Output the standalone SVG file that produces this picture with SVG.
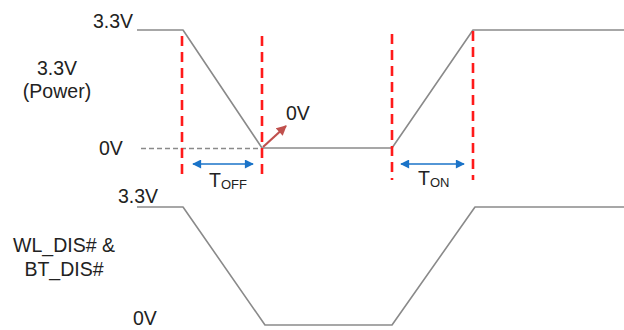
<svg xmlns="http://www.w3.org/2000/svg" width="624" height="330" viewBox="0 0 624 330">
  <style>
    text { font-family: "Liberation Sans", Arial, sans-serif; fill: #222; }
    .lbl { font-size: 19.5px; }
    .sub { font-size: 13px; }
    .wave { fill: none; stroke: #8a8a8a; stroke-width: 1.6; stroke-linejoin: round; }
    .zero { fill: none; stroke: #8a8a8a; stroke-width: 1.5; stroke-dasharray: 5 3; }
    .mark { fill: none; stroke: #ff1a1a; stroke-width: 2.6; stroke-dasharray: 10 6; }
    .span { stroke: #1a73c8; stroke-width: 1.6; fill: none; }
  </style>
  <defs>
    <marker id="blueHead" viewBox="0 0 10 10" refX="9" refY="5" markerWidth="10" markerHeight="9" markerUnits="userSpaceOnUse" orient="auto-start-reverse">
      <path d="M0,0 L10,5 L0,10 Z" fill="#1a73c8"/>
    </marker>
    <marker id="redHead" viewBox="0 0 10 10" refX="9" refY="5" markerWidth="11" markerHeight="10" markerUnits="userSpaceOnUse" orient="auto">
      <path d="M0,0 L10,5 L0,10 Z" fill="#c0504d"/>
    </marker>
  </defs>

  <g id="power-signal">
    <text class="lbl" x="93" y="28">3.3V</text>
    <text class="lbl" x="57" y="75" text-anchor="middle">3.3V</text>
    <text class="lbl" x="57" y="98" text-anchor="middle">(Power)</text>
    <text class="lbl" x="99" y="155">0V</text>
    <line class="zero" x1="141" y1="148.5" x2="262" y2="148.5"/>
    <polyline class="wave" points="137,30 183,30 262,148 392,148 473,30 624,30"/>
  </g>

  <g id="disable-signal">
    <text class="lbl" x="118" y="203">3.3V</text>
    <text class="lbl" x="64" y="252" text-anchor="middle">WL_DIS# &amp;</text>
    <text class="lbl" x="64" y="276" text-anchor="middle">BT_DIS#</text>
    <text class="lbl" x="133" y="325">0V</text>
    <polyline class="wave" points="137,207 183,207 265,325 392,325 475,207 624,207"/>
  </g>

  <g id="markers">
    <line class="mark" x1="182" y1="36" x2="182" y2="180"/>
    <line class="mark" x1="262" y1="36" x2="262" y2="180"/>
    <line class="mark" x1="392" y1="34" x2="392" y2="180"/>
    <line class="mark" x1="473" y1="31" x2="473" y2="180"/>
  </g>

  <g id="connectors">
    <line class="span" x1="193" y1="164" x2="253" y2="164" marker-start="url(#blueHead)" marker-end="url(#blueHead)"/>
    <line class="span" x1="401" y1="164" x2="464" y2="164" marker-start="url(#blueHead)" marker-end="url(#blueHead)"/>
    <line x1="263" y1="147" x2="286" y2="126" stroke="#c0504d" stroke-width="2.2" marker-end="url(#redHead)"/>
  </g>

  <g id="timing-labels">
    <text class="lbl" x="286" y="120">0V</text>
    <text x="209" y="187"><tspan class="lbl">T</tspan><tspan class="sub" dy="2">OFF</tspan></text>
    <text x="418" y="185"><tspan class="lbl">T</tspan><tspan class="sub" dy="2">ON</tspan></text>
  </g>
</svg>
